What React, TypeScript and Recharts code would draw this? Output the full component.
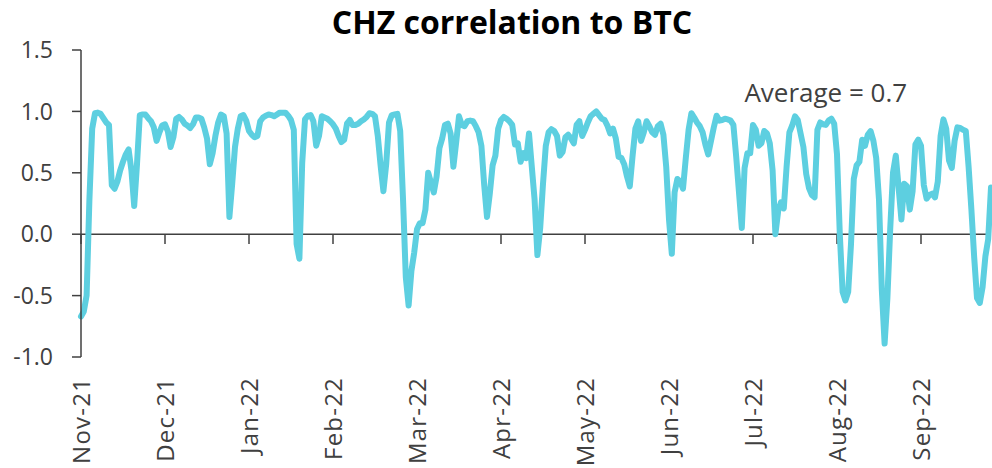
import React from "react";
import { LineChart, Line, XAxis, YAxis, ReferenceLine, ReferenceDot } from "recharts";

const TITLE = "CHZ correlation to BTC";
const ANNOTATION = "Average = 0.7";
const MONTH_LABELS = ["Nov-21", "Dec-21", "Jan-22", "Feb-22", "Mar-22", "Apr-22", "May-22", "Jun-22", "Jul-22", "Aug-22", "Sep-22"];
const MONTH_INDEX = [0, 30, 60, 90, 120, 150, 180, 210, 240, 270, 300];
const Y_TICKS = [-1, -0.5, 0, 0.5, 1, 1.5];

// daily rolling correlation of CHZ to BTC
const CORRELATION = [
  -0.67, -0.63, -0.5, 0.28, 0.86, 0.985, 0.99, 0.98, 0.945, 0.91,
  0.89, 0.4, 0.37, 0.43, 0.52, 0.59, 0.65, 0.69, 0.52, 0.23,
  0.57, 0.97, 0.975, 0.975, 0.945, 0.92, 0.87, 0.76, 0.83, 0.885,
  0.895, 0.84, 0.71, 0.79, 0.94, 0.955, 0.935, 0.9, 0.885, 0.865,
  0.895, 0.95, 0.95, 0.94, 0.87, 0.78, 0.57, 0.66, 0.8, 0.91,
  0.975, 0.96, 0.82, 0.14, 0.41, 0.71, 0.86, 0.96, 0.97, 0.925,
  0.84, 0.81, 0.79, 0.8, 0.92, 0.95, 0.965, 0.975, 0.97, 0.96,
  0.975, 0.99, 0.99, 0.99, 0.965, 0.93, 0.85, -0.08, -0.2, 0.58,
  0.935, 0.965, 0.97, 0.92, 0.72, 0.8, 0.96, 0.95, 0.94, 0.92,
  0.895, 0.86, 0.8, 0.75, 0.77, 0.9, 0.93, 0.89, 0.89, 0.9,
  0.92, 0.935, 0.955, 0.985, 0.98, 0.96, 0.8, 0.56, 0.35, 0.57,
  0.91, 0.97, 0.975, 0.98, 0.84, 0.29, -0.35, -0.58, -0.3, -0.15,
  0.04, 0.09, 0.09, 0.2, 0.5, 0.42, 0.34, 0.47, 0.7, 0.78,
  0.89, 0.9, 0.82, 0.55, 0.75, 0.96, 0.89, 0.88, 0.92, 0.925,
  0.92, 0.88, 0.83, 0.72, 0.4, 0.14, 0.33, 0.56, 0.64, 0.86,
  0.93, 0.955, 0.94, 0.92, 0.89, 0.73, 0.74, 0.59, 0.66, 0.62,
  0.82, 0.55, 0.28, -0.17, 0.05, 0.41, 0.72, 0.83, 0.855, 0.84,
  0.8, 0.64, 0.67, 0.79, 0.81, 0.78, 0.74, 0.89, 0.92, 0.8,
  0.85, 0.91, 0.96, 0.98, 1.0, 0.97, 0.94, 0.93, 0.885, 0.82,
  0.86, 0.78, 0.63, 0.62, 0.57, 0.47, 0.39, 0.64, 0.86, 0.92,
  0.76, 0.83, 0.92, 0.88, 0.83, 0.81, 0.88, 0.9, 0.81, 0.55,
  0.12, -0.16, 0.34, 0.45, 0.43, 0.37, 0.62, 0.85, 0.985, 0.95,
  0.91, 0.88, 0.83, 0.73, 0.65, 0.76, 0.87, 0.965, 0.925, 0.93,
  0.94, 0.935, 0.925, 0.89, 0.63, 0.34, 0.05, 0.54, 0.66, 0.66,
  0.89, 0.85, 0.72, 0.74, 0.84, 0.82, 0.74, 0.52, 0.0, 0.19,
  0.26, 0.21, 0.55, 0.83, 0.885, 0.96, 0.93, 0.82, 0.71, 0.49,
  0.375, 0.32, 0.3, 0.85, 0.91, 0.895, 0.89, 0.925, 0.94, 0.9,
  0.65, 0.0, -0.47, -0.54, -0.47, -0.08, 0.45, 0.56, 0.59, 0.77,
  0.72, 0.81, 0.84, 0.76, 0.62, 0.28, -0.45, -0.89, -0.52, 0.04,
  0.5, 0.64, 0.38, 0.12, 0.41, 0.39, 0.2, 0.35, 0.73, 0.77,
  0.72, 0.4, 0.29, 0.32, 0.33, 0.3, 0.43, 0.8, 0.935, 0.86,
  0.6, 0.54, 0.76, 0.87, 0.865, 0.85, 0.84, 0.55, 0.2, -0.19,
  -0.52, -0.56, -0.43, -0.18, -0.04, 0.38,
];

const DATA = CORRELATION.map((v, i) => ({ i, v }));
const LAST = CORRELATION.length - 1;

const FONT = "'Open Sans', sans-serif";
const AXIS = "#404040";
const LINE = "#5DCFE0";

const XTick = (props: any) => {
  const { x, y, payload } = props;
  const idx = MONTH_INDEX.indexOf(payload.value);
  return (
    <g transform={`translate(${x},${y})`}>
      <text
        x={0}
        y={0}
        transform="rotate(-90)"
        textAnchor="end"
        dy="0.38em"
        fill={AXIS}
        fontSize={24}
        letterSpacing={1.2}
        fontFamily={FONT}
      >
        {MONTH_LABELS[idx]}
      </text>
    </g>
  );
};

export default function App() {
  return (
    <div style={{ position: "absolute", left: 0, top: 0, width: 992, height: 468, background: "#fff" }}>
      <div
        style={{
          position: "absolute",
          left: 0,
          top: 0,
          width: 1024,
          textAlign: "center",
          fontFamily: FONT,
          fontWeight: 700,
          fontSize: 32,
          color: "#000",
          lineHeight: "44px",
        }}
      >
        {TITLE}
      </div>
      <LineChart width={992} height={468} data={DATA} margin={{ top: 50, right: 1, bottom: 0, left: 0 }}>
        <XAxis
          dataKey="i"
          type="number"
          domain={[0, LAST]}
          ticks={MONTH_INDEX}
          axisLine={false}
          tickLine={false}
          tickSize={0}
          tickMargin={20}
          height={111}
          tick={<XTick />}
          interval={0}
        />
        <YAxis
          type="number"
          domain={[-1, 1.5]}
          ticks={Y_TICKS}
          width={81}
          tickFormatter={(v: number) => v.toFixed(1)}
          axisLine={{ stroke: AXIS, strokeWidth: 1.5 }}
          tickLine={{ stroke: AXIS, strokeWidth: 1.5 }}
          tickSize={9}
          tickMargin={19}
          tick={{ fill: AXIS, fontSize: 23, fontFamily: FONT }}
          interval={0}
        />
        <ReferenceLine y={0} stroke={AXIS} strokeWidth={1.5} />
        {MONTH_INDEX.map((t) => (
          <ReferenceLine
            key={t}
            segment={[
              { x: t, y: 0 },
              { x: t, y: -0.08 },
            ]}
            stroke={AXIS}
            strokeWidth={1.5}
          />
        ))}
        <ReferenceDot
          x={266}
          y={1.15}
          r={0}
          fill="none"
          stroke="none"
          label={{ value: ANNOTATION, position: "center", fill: AXIS, fontSize: 26, fontFamily: FONT }}
        />
        <Line
          type="linear"
          dataKey="v"
          stroke={LINE}
          strokeWidth={6}
          strokeLinejoin="round"
          strokeLinecap="round"
          dot={false}
          activeDot={false}
          isAnimationActive={false}
        />
      </LineChart>
    </div>
  );
}
